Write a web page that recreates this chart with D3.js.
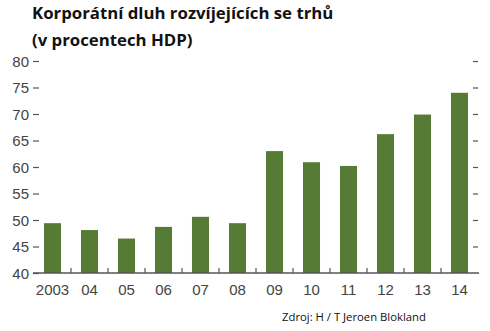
<!DOCTYPE html>
<html>
<head>
<meta charset="utf-8">
<script src="https://cdn.jsdelivr.net/npm/d3@7"></script>
<style>
  body { margin: 0; background: #fff; }
  svg { display: block; }
</style>
</head>
<body>
<svg id="chart"></svg>
<script>
// years and corporate debt (% of GDP)
var years = ["2003", "04", "05", "06", "07", "08", "09", "10", "11", "12", "13", "14"]
var debt = [49.4, 48.1, 46.5, 48.7, 50.6, 49.4, 63.0, 60.9, 60.2, 66.2, 69.9, 74.0]
var yTicks = [40, 45, 50, 55, 60, 65, 70, 75, 80]

var dimensions = {
    width: 490,
    height: 331,
    margin: { top: 61, bottom: 58, left: 33, right: 11 }
}

var svg = d3.select("#chart")
    .attr("width", dimensions.width)
    .attr("height", dimensions.height)

var data = years.map((y, i) => ({ year: y, value: debt[i] }))

var xScale = d3.scaleBand()
    .domain(years)
    .range([dimensions.margin.left + 1, dimensions.width - dimensions.margin.right - 1])
    .paddingInner(0.54)
    .paddingOuter(0.27)

var yScale = d3.scaleLinear()
    .domain([40, 80])
    .range([dimensions.height - dimensions.margin.bottom, dimensions.margin.top])

var baseY = yScale(40)
var textFont = "'Liberation Sans Narrow', 'Arial Narrow', 'Liberation Sans', sans-serif"

// title
svg.append("text")
    .attr("x", 32).attr("y", 19)
    .style("font-family", "'Open Sans', sans-serif")
    .style("font-weight", "bold")
    .style("font-size", "16.8px")
    .attr("fill", "#111")
    .text("Korporátní dluh rozvíjejících se trhů")
svg.append("text")
    .attr("x", 32).attr("y", 46)
    .style("font-family", "'Open Sans', sans-serif")
    .style("font-weight", "bold")
    .style("font-size", "16.8px")
    .attr("fill", "#111")
    .text("(v procentech HDP)")

// left axis: short dash ticks, no domain line
var yAxisLeft = svg.append("g")
    .attr("transform", `translate(${dimensions.margin.left + 6},0)`)
    .call(d3.axisLeft(yScale).tickValues(yTicks).tickSize(6).tickPadding(4))
yAxisLeft.select(".domain").remove()
yAxisLeft.selectAll("line").attr("stroke", "#555").attr("stroke-width", 1.2)
yAxisLeft.selectAll("text")
    .style("font-family", textFont)
    .style("font-size", "15px")
    .attr("fill", "#444")
    .attr("dy", "0.35em")

// right axis: short dash ticks only
var yAxisRight = svg.append("g")
    .attr("transform", `translate(${dimensions.width - dimensions.margin.right - 6},0)`)
    .call(d3.axisRight(yScale).tickValues(yTicks.slice(1)).tickSize(5).tickFormat(""))
yAxisRight.select(".domain").remove()
yAxisRight.selectAll("line").attr("stroke", "#555").attr("stroke-width", 1.2)

// bars
svg.selectAll("rect.bar")
    .data(data)
    .enter()
    .append("rect")
    .attr("class", "bar")
    .attr("x", d => xScale(d.year))
    .attr("y", d => yScale(d.value))
    .attr("width", xScale.bandwidth())
    .attr("height", d => baseY - yScale(d.value))
    .attr("fill", "#557b35")

// baseline
svg.append("line")
    .attr("x1", dimensions.margin.left).attr("x2", dimensions.width - dimensions.margin.right)
    .attr("y1", baseY).attr("y2", baseY)
    .attr("stroke", "#555").attr("stroke-width", 1.5)

// small separator ticks between bars
var step = xScale.step()
svg.selectAll("line.sep")
    .data(years.slice(1))
    .enter()
    .append("line")
    .attr("class", "sep")
    .attr("x1", d => xScale(d) - (step - xScale.bandwidth()) / 2)
    .attr("x2", d => xScale(d) - (step - xScale.bandwidth()) / 2)
    .attr("y1", baseY).attr("y2", baseY - 5)
    .attr("stroke", "#555").attr("stroke-width", 1.2)

// x labels
svg.selectAll("text.xl")
    .data(years)
    .enter()
    .append("text")
    .attr("class", "xl")
    .attr("x", d => xScale(d) + xScale.bandwidth() / 2)
    .attr("y", baseY + 22)
    .attr("text-anchor", "middle")
    .style("font-family", textFont)
    .style("font-size", "15px")
    .attr("fill", "#444")
    .text(d => d)

// source
svg.append("text")
    .attr("x", 282).attr("y", 321)
    .style("font-family", "'Open Sans', sans-serif")
    .style("font-size", "11.3px")
    .attr("fill", "#111")
    .text("Zdroj: H / T Jeroen Blokland")
</script>
</body>
</html>
